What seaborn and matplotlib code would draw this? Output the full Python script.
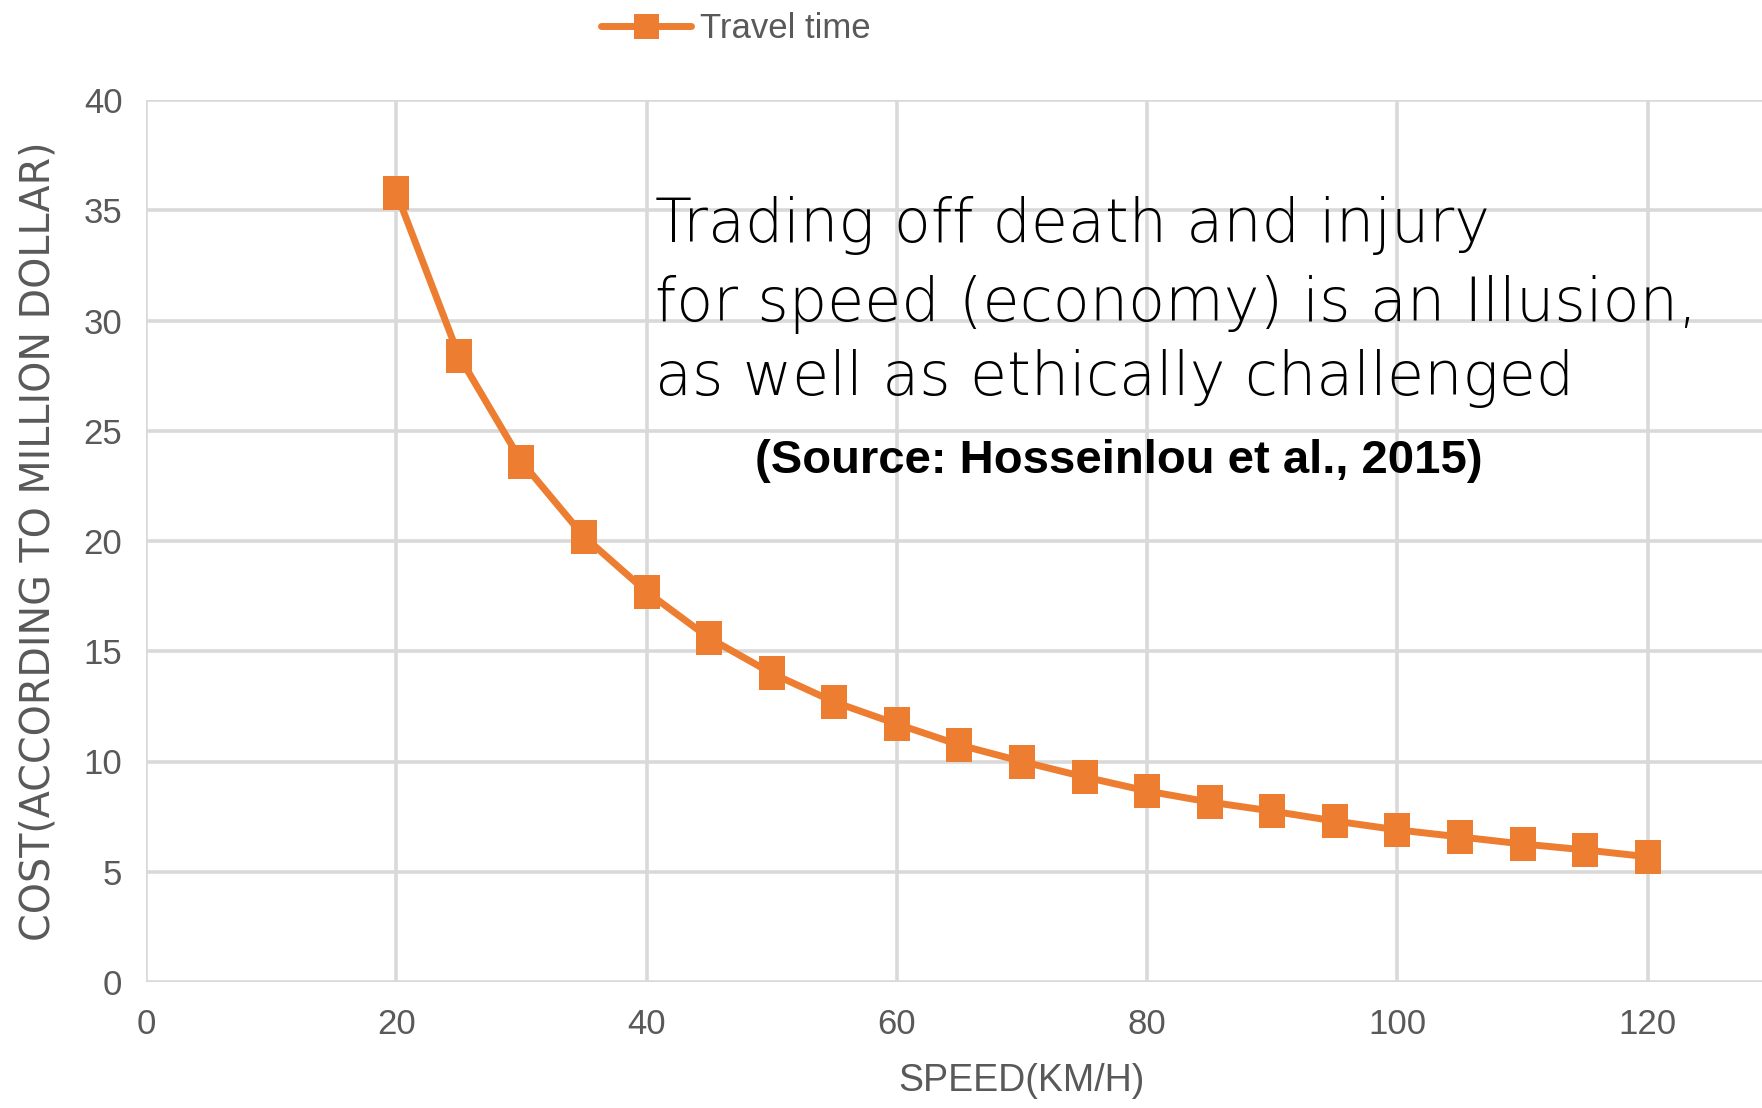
import matplotlib
matplotlib.use("Agg")
import matplotlib.pyplot as plt
from matplotlib.lines import Line2D
from matplotlib import font_manager
import seaborn as sns
import pandas as pd

# ---- data ----
speed = [20, 25, 30, 35, 40, 45, 50, 55, 60, 65, 70, 75, 80, 85, 90, 95, 100, 105, 110, 115, 120]
travel_time_cost = [35.8, 28.4, 23.6, 20.2, 17.7, 15.6, 14.0, 12.7, 11.7, 10.75, 10.0, 9.3,
                    8.66, 8.16, 7.75, 7.3, 6.9, 6.58, 6.26, 5.99, 5.68]
series_name = "Travel time"
x_ticks = [0, 20, 40, 60, 80, 100, 120]
y_ticks = [0, 5, 10, 15, 20, 25, 30, 35, 40]
x_label = "SPEED(KM/H)"
y_label = "COST(ACCORDING TO MILLION DOLLAR)"
note_lines = ["Trading off death and injury",
              "for speed (economy) is an Illusion,",
              "as well as ethically challenged"]
source_text = "(Source: Hosseinlou et al., 2015)"

df = pd.DataFrame({"speed": speed, "cost": travel_time_cost})

ORANGE = "#ED7D31"
GRID = "#D9D9D9"
TXT = "#595959"

installed = {f.name for f in font_manager.fontManager.ttflist}
NARROW = "Liberation Sans Narrow" if "Liberation Sans Narrow" in installed else "Liberation Sans"
narrow_ok = NARROW == "Liberation Sans Narrow"

sns.set_theme(style="whitegrid")
plt.rcParams["font.family"] = ["DejaVu Sans"]

fig = plt.figure(figsize=(17.62, 11.08), dpi=100)
ax = fig.add_axes([146 / 1762, 1 - 982 / 1108, 1752 / 1762, 882 / 1108])
ax.set_facecolor("white")

rect_marker = [(-0.38, -0.5), (0.38, -0.5), (0.38, 0.5), (-0.38, 0.5)]
sns.lineplot(data=df, x="speed", y="cost", ax=ax, color=ORANGE, linewidth=5,
             marker=rect_marker, markersize=24, markeredgewidth=0,
             markerfacecolor=ORANGE, legend=False, zorder=3)

ax.set_xlim(0, 140)
ax.set_ylim(0, 40)
ax.set_xticks(x_ticks)
ax.set_yticks(y_ticks)
ax.grid(True, color=GRID, linewidth=2.6)
for s in ax.spines.values():
    s.set_visible(False)
ax.tick_params(axis="both", length=0, labelcolor=TXT, labelsize=27 if narrow_ok else 25)
ax.tick_params(axis="y", pad=17)
ax.tick_params(axis="x", pad=19)
for lab in ax.get_xticklabels() + ax.get_yticklabels():
    lab.set_fontfamily(NARROW)

ax.set_xlabel(x_label, fontsize=33 if narrow_ok else 27, color=TXT, family=NARROW)
ax.set_ylabel(y_label, fontsize=28.5, color=TXT, family="DejaVu Sans")
ax.xaxis.set_label_coords(0.5, -0.092)
ax.yaxis.set_label_coords(-0.050, 0.5)

# annotation
baselines = [33.55, 30.0, 26.6]
for line, yb in zip(note_lines, baselines):
    ax.text(40.7, yb, line, fontsize=43.5, color="black", ha="left", va="baseline",
            family="DejaVu Sans", fontweight="light", zorder=4)
ax.text(77.7, 23.65, source_text, fontsize=34, color="black", ha="center", va="center",
        family="Liberation Sans", fontweight="bold", zorder=4)

# legend
handle = Line2D([], [], color=ORANGE, linewidth=5, marker="s", markersize=18,
                markeredgewidth=0)
fig.legend([handle], [series_name], loc="center left",
           bbox_to_anchor=(601 / 1762, 1 - 29 / 1108), frameon=False,
           borderpad=0, borderaxespad=0, handlelength=2.6, handletextpad=0.25,
           prop={"family": "Liberation Sans", "size": 25}, labelcolor=TXT)

fig.savefig("out.png", dpi=100, facecolor="white")
